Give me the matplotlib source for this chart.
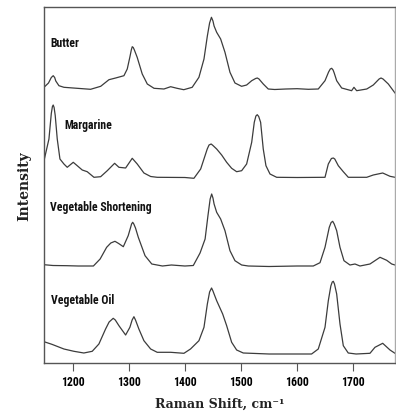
import matplotlib
matplotlib.use("Agg")
import matplotlib.pyplot as plt
from matplotlib import font_manager as fm

# Raman spectra: shift (cm-1) and intensity above each baseline
butter_x = [1149, 1157, 1162, 1165.4, 1168, 1170, 1175.6, 1184.5, 1208, 1232, 1250, 1264.7, 1276.6,
            1291.4, 1297.3, 1302, 1304.5, 1306.2, 1308, 1310, 1315, 1324, 1333, 1345, 1362.7,
            1374.6, 1386, 1398, 1413, 1425, 1434, 1440, 1444, 1447.3, 1450, 1452, 1456.6, 1463.7,
            1471.4, 1480.3, 1489.2, 1501, 1510, 1519, 1526, 1529, 1532, 1539.6, 1548.5, 1560,
            1580, 1600, 1620, 1637.6, 1649.6, 1656, 1659, 1661.5, 1664, 1666, 1670.4, 1679.3,
            1697, 1701.2, 1706, 1724, 1735.6, 1746, 1749.4, 1753, 1762.4, 1774.3]
butter_y = [1.7, 6, 11.5, 13.3, 11.5, 8, 3.3, 1.7, 0.7, -0.3, 2.7, 9.3, 11, 13.3, 20, 32, 39,
            42.3, 41.5, 39, 31.7, 15, 5, 0.7, 0, 2.3, 0.7, -0.7, 1.7, 11.7, 30, 53, 66, 71.7, 68,
            63, 56.7, 50, 36.7, 16.7, 6, 2.7, 4, 8.3, 10.5, 11, 10, 5, 0, -0.5, 0, 0.3, -0.3, 0,
            8.3, 17, 20, 20.7, 19, 16, 8.3, 1, -1.7, 1.7, -1.7, 0, 4, 10, 11, 10, 5, -4]

margarine_x = [1149, 1157.8, 1162, 1164, 1165.4, 1167, 1169, 1172.6, 1177.4, 1184.5, 1190.4,
               1201.1, 1208.2, 1217.1, 1226, 1238, 1249.9, 1261.7, 1274.8, 1282.5, 1294.4, 1306.2,
               1315.1, 1327, 1339, 1350.7, 1400, 1416.1, 1428.1, 1439.8, 1443, 1446.8, 1450,
               1456.6, 1465.5, 1474.4, 1483.3, 1492.2, 1501.1, 1510, 1519, 1523.6, 1526.5,
               1528.9, 1531.5, 1534.9, 1539.6, 1544.4, 1551.6, 1563.5, 1600, 1649.6, 1655.5,
               1661, 1664.4, 1667, 1673.3, 1682.2, 1691.1, 1723.9, 1735.6, 1752.4, 1765.4, 1774.3]
margarine_y = [16.8, 38.5, 64, 71, 72.5, 70, 62, 38.5, 18.5, 13.5, 10.2, 15.2, 11.8, 7.5, 5.8,
               0.2, 0.8, 6.8, 14.2, 10.2, 9.5, 19.2, 13.5, 4.5, 1, 0.2, 0, -0.8, 8.5, 28.5, 32.5,
               33.5, 32, 28.5, 22.5, 15.2, 9.2, 5.8, 6.8, 13.5, 35.2, 55.2, 61.5, 62.8, 61, 55.2,
               28.5, 11.8, 3.5, 0.2, 0, 0.2, 13.5, 19, 19.5, 18.5, 11.8, 5.8, 0.2, 0.2, 2.5, 4.5,
               1.2, 0.2]

shortening_x = [1149, 1165, 1190, 1210, 1237, 1249, 1260.6, 1268, 1275.4, 1282, 1290.3, 1299,
                1303, 1305, 1307, 1309, 1312, 1317, 1329, 1341, 1360, 1376, 1400, 1415, 1427,
                1436, 1441, 1445, 1447.7, 1450, 1452, 1456.6, 1463.7, 1471.4, 1480.3, 1489.2,
                1501.1, 1512.9, 1550, 1600, 1628.7, 1640.7, 1649.6, 1657.2, 1660.5, 1663.3, 1666,
                1670.4, 1676.3, 1683.4, 1694.1, 1703, 1711.9, 1729.7, 1747.6, 1759.5, 1768.4,
                1774.3]
shortening_y = [1.3, 0.5, 0.3, 0, 0, 7, 18.7, 23, 24.7, 22.5, 19.3, 30.3, 38, 42, 43.7, 42, 38,
                28.7, 10.3, 2, 0, 1, 0, 0.5, 13, 27, 50, 67, 72, 68, 62, 53.7, 47, 35.3, 15.3,
                5.3, 1, 0, -0.5, 0, 0, 3.3, 18.7, 38.7, 43.5, 44.7, 42, 35.3, 18.7, 5.3, 1, 2, 0,
                2, 8.7, 5.7, 2, 1]

oil_x = [1149, 1163, 1184.5, 1202.3, 1220, 1234.9, 1246.8, 1258.7, 1265, 1272.3, 1276, 1282.5,
         1294.4, 1302, 1306, 1309.2, 1312, 1318, 1327, 1339, 1350.7, 1374.6, 1398.3, 1410, 1425,
         1434, 1440, 1444, 1447.5, 1450, 1452, 1456.6, 1467.3, 1474.4, 1483.3, 1492.2, 1504,
         1550, 1600, 1625.7, 1637.6, 1649.6, 1655.5, 1660, 1662.5, 1664.4, 1666.5, 1670.4,
         1676.3, 1682.2, 1691, 1705, 1729.7, 1738.6, 1752.4, 1765.4, 1774.3]
oil_y = [12.3, 9.7, 5, 2.7, 1, 2.7, 10, 25, 32, 35.7, 34, 28.3, 19, 26.7, 34, 37.3, 34, 25,
         13.3, 5, 1.7, 1.7, 0.7, 5, 13.3, 26.7, 50, 62, 66, 63, 60, 53.3, 40, 28.3, 11.7, 4, 1,
         0, 0, 0, 5, 26.7, 53.3, 68, 72, 72.7, 70, 60, 30, 8.3, 1, 0, 0.7, 6.7, 10.7, 4, 0.7]

names = ["Butter", "Margarine", "Vegetable Shortening", "Vegetable Oil"]
xs = [butter_x, margarine_x, shortening_x, oil_x]
ys = [butter_y, margarine_y, shortening_y, oil_y]
offsets = [274, 185.5, 97, 9]
label_pos = [(1159.7, 316.7), (1185.9, 234.7), (1159.7, 153), (1162, 59.7)]


def narrow_bold():
    # look for a condensed bold sans; fall back to Liberation Sans
    wanted = ["Liberation Sans Narrow", "Arial Narrow", "Roboto Condensed",
              "Noto Sans Condensed", "Open Sans Condensed", "DejaVu Sans Condensed"]
    fonts = fm.fontManager.ttflist
    for w in wanted:
        for f in fonts:
            if f.name == w and f.weight in ("bold", 700) and f.style == "normal":
                return fm.FontProperties(fname=f.fname)
    for f in fonts:
        if (f.stretch in ("condensed", "semi-condensed") and f.weight in ("bold", 700)
                and f.style == "normal" and "Sans" in f.name):
            return fm.FontProperties(fname=f.fname)
    return fm.FontProperties(family="Liberation Sans", weight="bold")


nfont = narrow_bold()

fig = plt.figure(figsize=(3.96, 4.14), dpi=100)
ax = fig.add_axes([44 / 396, 50 / 414, 351 / 396, 356 / 414])

for x, y, off, name, (lx, ly) in zip(xs, ys, offsets, names, label_pos):
    ax.plot(x, [v + off for v in y], color="#3c3c3c", lw=0.9)
    t = ax.text(lx, ly, name, va="baseline", color="#111", fontproperties=nfont)
    t.set_fontsize(8.5)

ax.set_xlim(1149, 1774.3)
ax.set_ylim(0, 356)
ax.set_xticks([1200, 1300, 1400, 1500, 1600, 1700])
ax.set_yticks([])
ax.tick_params(axis="x", direction="out", length=6, width=0.8, color="#555", pad=3)
for lab in ax.get_xticklabels():
    lab.set_fontproperties(nfont)
    lab.set_fontsize(8.5)
for s in ax.spines.values():
    s.set_color("#555")
    s.set_linewidth(1.0)
ax.spines["right"].set_color("#aaa")

ax.set_xlabel("Raman Shift, cm⁻¹", family="DejaVu Serif", fontweight="bold",
              fontsize=9, labelpad=6, color="#222")
ax.set_ylabel("Intensity", family="DejaVu Serif", fontweight="bold", fontsize=10,
              labelpad=9, color="#222")

fig.savefig("out.png", dpi=100)
